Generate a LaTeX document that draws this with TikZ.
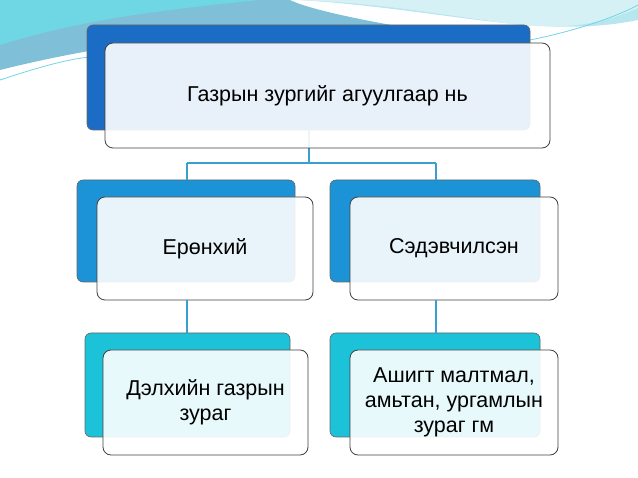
\documentclass[tikz,border=0pt]{standalone}
\usepackage{fontspec}
\setmainfont{Liberation Sans}
\definecolor{topb}{HTML}{1A6CC4}
\definecolor{midb}{HTML}{1C93D6}
\definecolor{lowb}{HTML}{1CC3D8}
\definecolor{lnc}{HTML}{3A9ED0}
\definecolor{decoA}{HTML}{7FBFD8}
\definecolor{decoB}{HTML}{6FD6E4}
\definecolor{decoC}{HTML}{B8E6EE}
\definecolor{decoD}{HTML}{D6F1F5}
\begin{document}
\begin{tikzpicture}[x=1pt,y=-1pt,
  back/.style={rounded corners=6pt,draw=black!60,line width=0.6pt},
  front/.style={rounded corners=8pt,draw=black!75,line width=0.8pt,fill=white,fill opacity=0.9,text opacity=1,align=center,font=\fontsize{21.5}{25}\selectfont},
  conn/.style={draw=lnc,line width=1.2pt}]
\useasboundingbox (0,0) rectangle (638,478);
% decoration
\fill[decoA] (0,0) -- (0,70) .. controls (120,40) and (250,25) .. (420,30) .. controls (330,15) and (300,5) .. (290,0) -- cycle;
\fill[decoB] (0,45) .. controls (80,20) and (160,10) .. (260,0) -- (0,0) -- cycle;
\fill[decoC] (300,0) .. controls (450,10) and (540,40) .. (638,20) -- (638,0) -- cycle;
\fill[decoD] (290,0) .. controls (380,2) and (440,15) .. (520,25) .. controls (580,30) and (610,20) .. (638,8) -- (638,0) -- cycle;
\draw[decoB,line width=0.8pt] (0,80) .. controls (60,60) and (80,58) .. (90,57);
\draw[decoB,line width=0.8pt] (530,40) .. controls (580,30) and (620,15) .. (638,5);
% back boxes
\fill[back,fill=topb] (87,25) rectangle (530,130);
\fill[back,fill=midb] (77,180) rectangle (295,282);
\fill[back,fill=midb] (330,180) rectangle (540,282);
\fill[back,fill=lowb] (85,333) rectangle (290,437);
\fill[back,fill=lowb] (330,333) rectangle (540,437);
% connectors
\coordinate (j1) at (309,163);
\coordinate (jl) at (187,163);
\coordinate (jr) at (436,163);
\draw[conn] (309,130) -- (j1) (jl) -- (jr) (jl) -- (187,180) (jr) -- (436,180);
% front boxes
\node[front,minimum width=445pt,minimum height=105pt] (t) at (327.5,95.5) {Газрын зургийг агуулгаар нь};
\node[front,minimum width=216pt,minimum height=103pt] (a) at (205,248.5) {Ерөнхий};
\node[front,minimum width=208pt,minimum height=103pt] (b) at (454,248.5) {Сэдэвчилсэн};
\node[front,minimum width=205pt,minimum height=105pt] (c) at (205.5,402.5) {Дэлхийн газрын\\зураг};
\node[front,minimum width=208pt,minimum height=105pt] (d) at (454,402.5) {Ашигт малтмал,\\амьтан, ургамлын\\зураг гм};
\draw[conn] (a.south -| 187,0) -- (187,333);
\draw[conn] (b.south -| 436,0) -- (436,333);
\end{tikzpicture}
\end{document}
